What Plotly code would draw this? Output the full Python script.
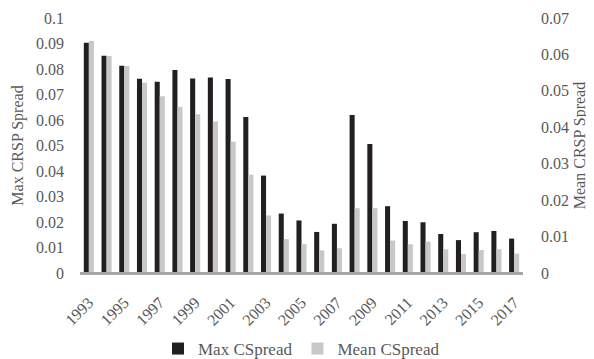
import plotly.graph_objects as go

years = [str(y) for y in range(1993, 2018)]
max_cspread = [0.0903, 0.0852, 0.0813, 0.0762, 0.0750, 0.0796, 0.0763, 0.0767, 0.0761,
               0.0612, 0.0382, 0.0233, 0.0206, 0.0161, 0.0193, 0.0620, 0.0506, 0.0262,
               0.0204, 0.0199, 0.0153, 0.0129, 0.0160, 0.0165, 0.0135]
mean_cspread = [0.0637, 0.0596, 0.0568, 0.0522, 0.0485, 0.0456, 0.0436, 0.0416, 0.0360,
                0.0270, 0.0158, 0.0093, 0.0079, 0.0062, 0.0068, 0.0178, 0.0178, 0.0089,
                0.0079, 0.0086, 0.0065, 0.0052, 0.0063, 0.0065, 0.0053]
left_ticks = [0, 0.01, 0.02, 0.03, 0.04, 0.05, 0.06, 0.07, 0.08, 0.09, 0.1]
left_labels = ["0", "0.01", "0.02", "0.03", "0.04", "0.05", "0.06", "0.07", "0.08", "0.09", "0.1"]
right_ticks = [0, 0.01, 0.02, 0.03, 0.04, 0.05, 0.06, 0.07]
right_labels = ["0", "0.01", "0.02", "0.03", "0.04", "0.05", "0.06", "0.07"]

font_family = "'Liberation Serif', 'Times New Roman', serif"
txt = "#595959"

fig = go.Figure()
fig.add_trace(go.Bar(x=years, y=max_cspread, name="Max CSpread",
                     marker=dict(color="#231f20", line=dict(width=0)),
                     offsetgroup="1", yaxis="y"))
fig.add_trace(go.Bar(x=years, y=mean_cspread, name="Mean CSpread",
                     marker=dict(color="#c8c8c8", line=dict(width=0)),
                     offsetgroup="2", yaxis="y2"))

fig.update_layout(
    width=586, height=351,
    margin=dict(l=72, r=71, t=10, b=86, autoexpand=False),
    paper_bgcolor="white", plot_bgcolor="white",
    font=dict(family=font_family, size=16, color=txt),
    barmode="group", bargap=0.43, bargroupgap=0,
    showlegend=True,
    legend=dict(orientation="h", x=0.5, xanchor="center", y=-0.298, yanchor="middle",
                font=dict(family=font_family, size=17, color=txt), itemwidth=30,
                traceorder="normal"),
    xaxis=dict(type="category", tickangle=-45, tickvals=years[::2], ticktext=years[::2],
               showgrid=False, showline=True, linecolor="#a6a6a6", linewidth=2,
               layer="above traces",
               ticks="", ticklabelstandoff=12, automargin=False,
               tickfont=dict(family=font_family, size=16, color=txt)),
    yaxis=dict(range=[0, 0.1], tickvals=left_ticks, ticktext=left_labels,
               showgrid=False, zeroline=False,
               showline=False, ticks="",
               ticklabelstandoff=15, automargin=False,
               title=dict(text="Max CRSP Spread", font=dict(family=font_family, size=16, color=txt), standoff=8),
               tickfont=dict(family=font_family, size=16, color=txt)),
    yaxis2=dict(range=[0, 0.07], tickvals=right_ticks, ticktext=right_labels,
                overlaying="y", side="right", showgrid=False, zeroline=False,
                showline=False, ticks="", ticklabelstandoff=17, automargin=False,
                title=dict(text="Mean CRSP Spread", font=dict(family=font_family, size=16, color=txt), standoff=5),
                tickfont=dict(family=font_family, size=16, color=txt)),
)

# baseline rule along the bottom of the plot area (styling, in paper units)
fig.add_shape(type="line", xref="paper", yref="paper", x0=0, x1=1, y0=0, y1=0,
              line=dict(color="#a6a6a6", width=2), layer="above")

fig.write_html("out.html")
